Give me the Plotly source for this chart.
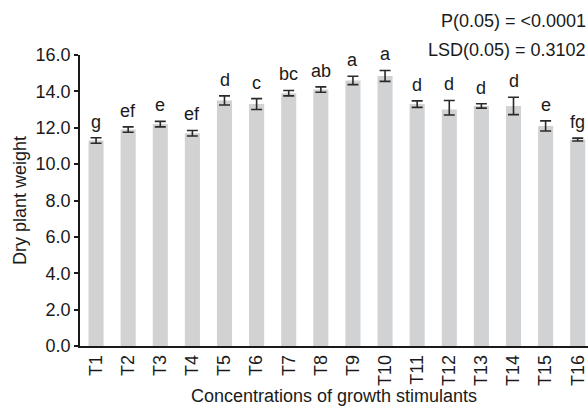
import plotly.graph_objects as go

# Treatments and measured dry plant weight (mean ± error)
treatments = ["T1", "T2", "T3", "T4", "T5", "T6", "T7", "T8",
              "T9", "T10", "T11", "T12", "T13", "T14", "T15", "T16"]
dry_weight = [11.3, 11.9, 12.2, 11.7, 13.5, 13.3, 13.9, 14.1,
              14.6, 14.85, 13.3, 13.0, 13.2, 13.2, 12.1, 11.35]
err_plus = [0.15, 0.15, 0.15, 0.15, 0.25, 0.3, 0.15, 0.15,
            0.23, 0.3, 0.18, 0.5, 0.12, 0.48, 0.28, 0.08]
err_minus = [0.15, 0.15, 0.15, 0.15, 0.25, 0.3, 0.15, 0.15,
             0.23, 0.3, 0.18, 0.3, 0.12, 0.48, 0.28, 0.08]
letters = ["g", "ef", "e", "ef", "d", "c", "bc", "ab",
           "a", "a", "d", "d", "d", "d", "e", "fg"]
stats_lines = ["P(0.05) = <0.0001", "LSD(0.05) = 0.3102"]

FONT = "Liberation Sans Narrow, Arial Narrow, Liberation Sans, Arial, sans-serif"
INK = "#1a1a1a"
FS = 18

fig = go.Figure(
    go.Bar(
        x=treatments,
        y=dry_weight,
        marker=dict(color="#d1d2d4", line=dict(width=0)),
        error_y=dict(type="data", symmetric=False, array=err_plus,
                     arrayminus=err_minus, color="#2a2a2a",
                     thickness=1.6, width=5.5),
        width=0.47,
    )
)

# Significance letters above each error bar
for t, v, e, lab in zip(treatments, dry_weight, err_plus, letters):
    fig.add_annotation(x=t, y=v + e, text=lab, showarrow=False,
                       yanchor="bottom", yshift=4,
                       font=dict(family=FONT, size=FS, color=INK))

# Statistics in the top-right corner
for i, line in enumerate(stats_lines):
    fig.add_annotation(xref="paper", yref="paper", x=1.0, y=1.0,
                       xanchor="right", yanchor="middle",
                       yshift=34 - 29 * i, text=line, showarrow=False,
                       font=dict(family=FONT, size=FS, color=INK))

fig.update_layout(
    width=588, height=406,
    margin=dict(l=80, r=0, t=55, b=60),
    paper_bgcolor="white", plot_bgcolor="white",
    showlegend=False,
    font=dict(family=FONT, size=FS, color=INK),
    xaxis=dict(
        type="category", range=[-0.5, 15.32],
        showline=True, linecolor=INK, linewidth=1.5,
        ticks="", tickangle=-90, showgrid=False,
        tickfont=dict(family=FONT, size=FS, color=INK),
        title=dict(text="Concentrations of growth stimulants",
                   font=dict(family=FONT, size=FS, color=INK), standoff=6),
    ),
    yaxis=dict(
        range=[0, 16], tickvals=[0, 2, 4, 6, 8, 10, 12, 14, 16],
        tickformat=".1f", showline=True, linecolor=INK, linewidth=1.5,
        ticks="outside", ticklen=4, tickwidth=1.5, tickcolor=INK,
        showgrid=False, zeroline=False,
        tickfont=dict(family=FONT, size=FS, color=INK),
        title=dict(text="Dry plant weight",
                   font=dict(family=FONT, size=FS, color=INK), standoff=4),
    ),
)

fig.write_html("out.html")
